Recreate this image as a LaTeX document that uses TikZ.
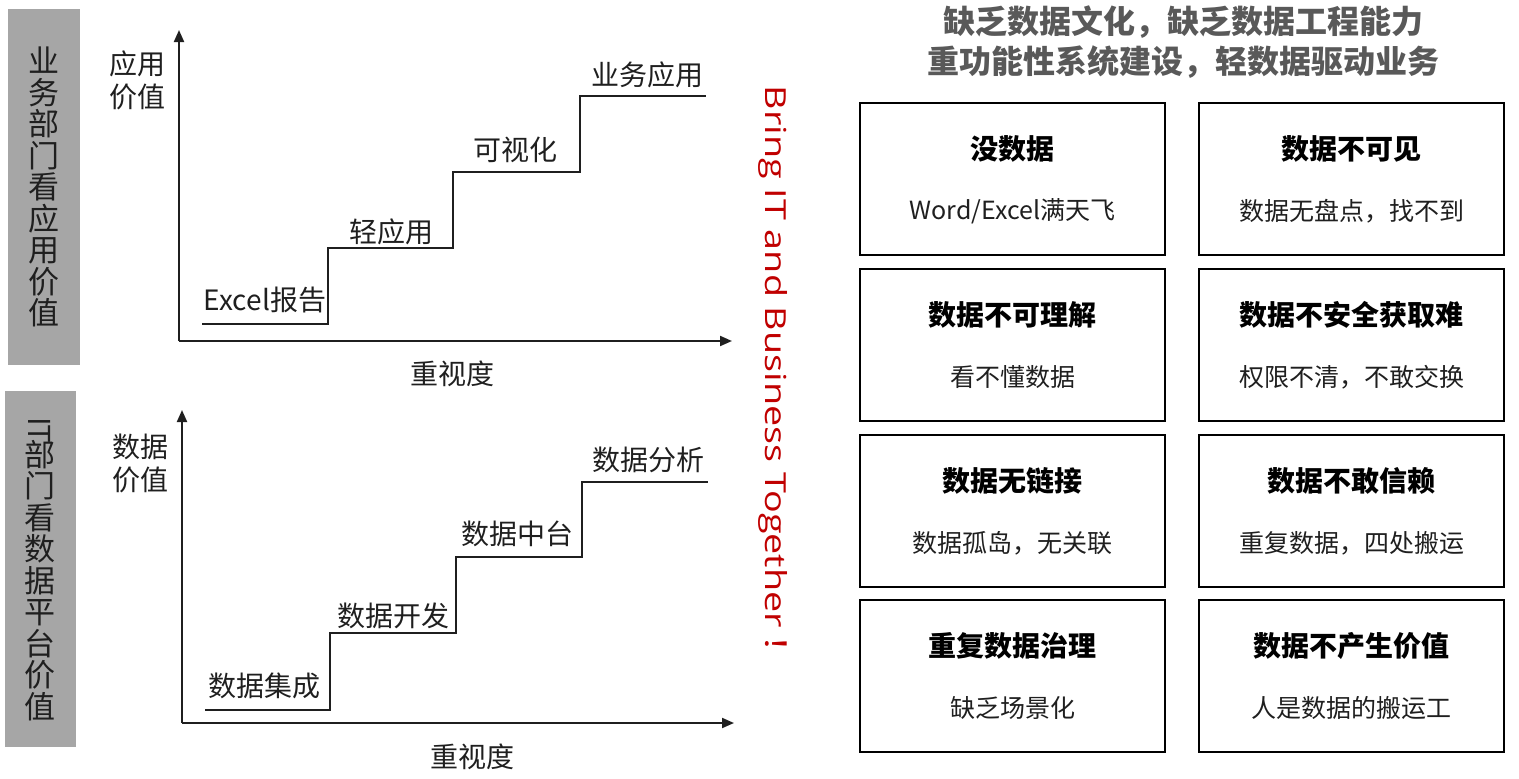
\documentclass[tikz,border=0pt]{standalone}
\usepackage{fontspec}
\setmainfont{Noto Sans CJK SC}
\newfontfamily\latinf{Open Sans}
\usetikzlibrary{arrows.meta}
\definecolor{barg}{HTML}{A6A6A6}
\definecolor{ttlg}{HTML}{595959}
\definecolor{txt}{HTML}{1F1F1F}
\definecolor{brred}{HTML}{C00000}
\tikzset{
  lbl/.style={font=\fontsize{28}{30}\selectfont, text=txt, inner sep=0pt},
  vlbl/.style={font=\fontsize{31}{31.5}\selectfont, text=txt, inner sep=0pt, align=center},
  axis/.style={line width=2pt, draw=txt, -{Triangle[length=12pt,width=10pt]}},
  stair/.style={line width=2pt, draw=txt},
  gbox/.style={draw=black, line width=1.4pt, minimum width=305pt, minimum height=152pt, inner sep=0pt},
  btitle/.style={font=\bfseries\fontsize{28}{30}\selectfont, text=black, inner sep=0pt},
  bsub/.style={font=\fontsize{25}{27}\selectfont, text=txt, inner sep=0pt},
  head/.style={font=\bfseries\fontsize{32}{40}\selectfont, text=ttlg, inner sep=0pt, align=center}
}
\begin{document}
\begin{tikzpicture}[x=1pt,y=-1pt]
\useasboundingbox (0,0) rectangle (1519,779);
% gray bars
\fill[barg] (8,9) rectangle (80,365);
\fill[barg] (5,391) rectangle (76,747);
\node[vlbl] (v1) at (44,187) {业\\务\\部\\门\\看\\应\\用\\价\\值};
\node[vlbl] (v2) at (40,569) {\rotatebox{-90}{\latinf IT}\\[-4pt]部\\门\\看\\数\\据\\平\\台\\价\\值};
% top chart
\coordinate (o1) at (179,341);
\coordinate (y1) at (179,30);
\coordinate (x1) at (732,341);
\draw[axis] (o1) -- (y1);
\draw[axis] (o1) -- (x1);
\draw[stair] (202,324) -- (328,324) -- (328,248) -- (453,248) -- (453,172) -- (580,172) -- (580,96) -- (706,96);
\node[lbl] (t1) at (265,300) {Excel报告};
\node[lbl] (t2) at (391,232) {轻应用};
\node[lbl] (t3) at (515,150) {可视化};
\node[lbl] (t4) at (647,75) {业务应用};
\node[lbl, align=center, font=\fontsize{28}{33}\selectfont] (ya1) at (137,80) {应用\\价值};
\node[lbl] (xa1) at (452,374) {重视度};
% bottom chart
\coordinate (o2) at (182,723);
\coordinate (y2) at (182,410);
\coordinate (x2) at (734,723);
\draw[axis] (o2) -- (y2);
\draw[axis] (o2) -- (x2);
\draw[stair] (205,710) -- (330,710) -- (330,633) -- (456,633) -- (456,557) -- (582,557) -- (582,482) -- (708,482);
\node[lbl] (u1) at (264,686) {数据集成};
\node[lbl] (u2) at (393,616) {数据开发};
\node[lbl] (u3) at (517,534) {数据中台};
\node[lbl] (u4) at (648,460) {数据分析};
\node[lbl, align=center, font=\fontsize{28}{33}\selectfont] (ya2) at (140,463) {数据\\价值};
\node[lbl] (xa2) at (472,757) {重视度};
% red slogan
\node[rotate=-90, text=brred, inner sep=0pt, font=\latinf\fontsize{29}{30}\selectfont] (slog) at (773,379) {\scalebox{1.3}[1]{Bring IT and Business Together\hspace{5pt}{\rmfamily ！}}};
% heading
\node[head] (hd) at (1183,42) {缺乏数据文化，缺乏数据工程能力\\重功能性系统建设，轻数据驱动业务};
% boxes
\node[gbox] (b1) at (1012.5,179) {};
\node[gbox] (b2) at (1351.5,179) {};
\node[gbox] (b3) at (1012.5,345) {};
\node[gbox] (b4) at (1351.5,345) {};
\node[gbox] (b5) at (1012.5,511) {};
\node[gbox] (b6) at (1351.5,511) {};
\node[gbox] (b7) at (1012.5,676) {};
\node[gbox] (b8) at (1351.5,676) {};
\foreach \b/\t/\s in {b1/没数据/{Word/Excel满天飞}, b2/数据不可见/数据无盘点，找不到, b3/数据不可理解/看不懂数据, b4/数据不安全获取难/权限不清，不敢交换, b5/数据无链接/数据孤岛，无关联, b6/数据不敢信赖/重复数据，四处搬运, b7/重复数据治理/缺乏场景化, b8/数据不产生价值/人是数据的搬运工}{
  \node[btitle] at ([yshift=-47pt]\b.north) {\t};
  \node[bsub] at ([yshift=-109pt]\b.north) {\s};
}
\end{tikzpicture}
\end{document}
